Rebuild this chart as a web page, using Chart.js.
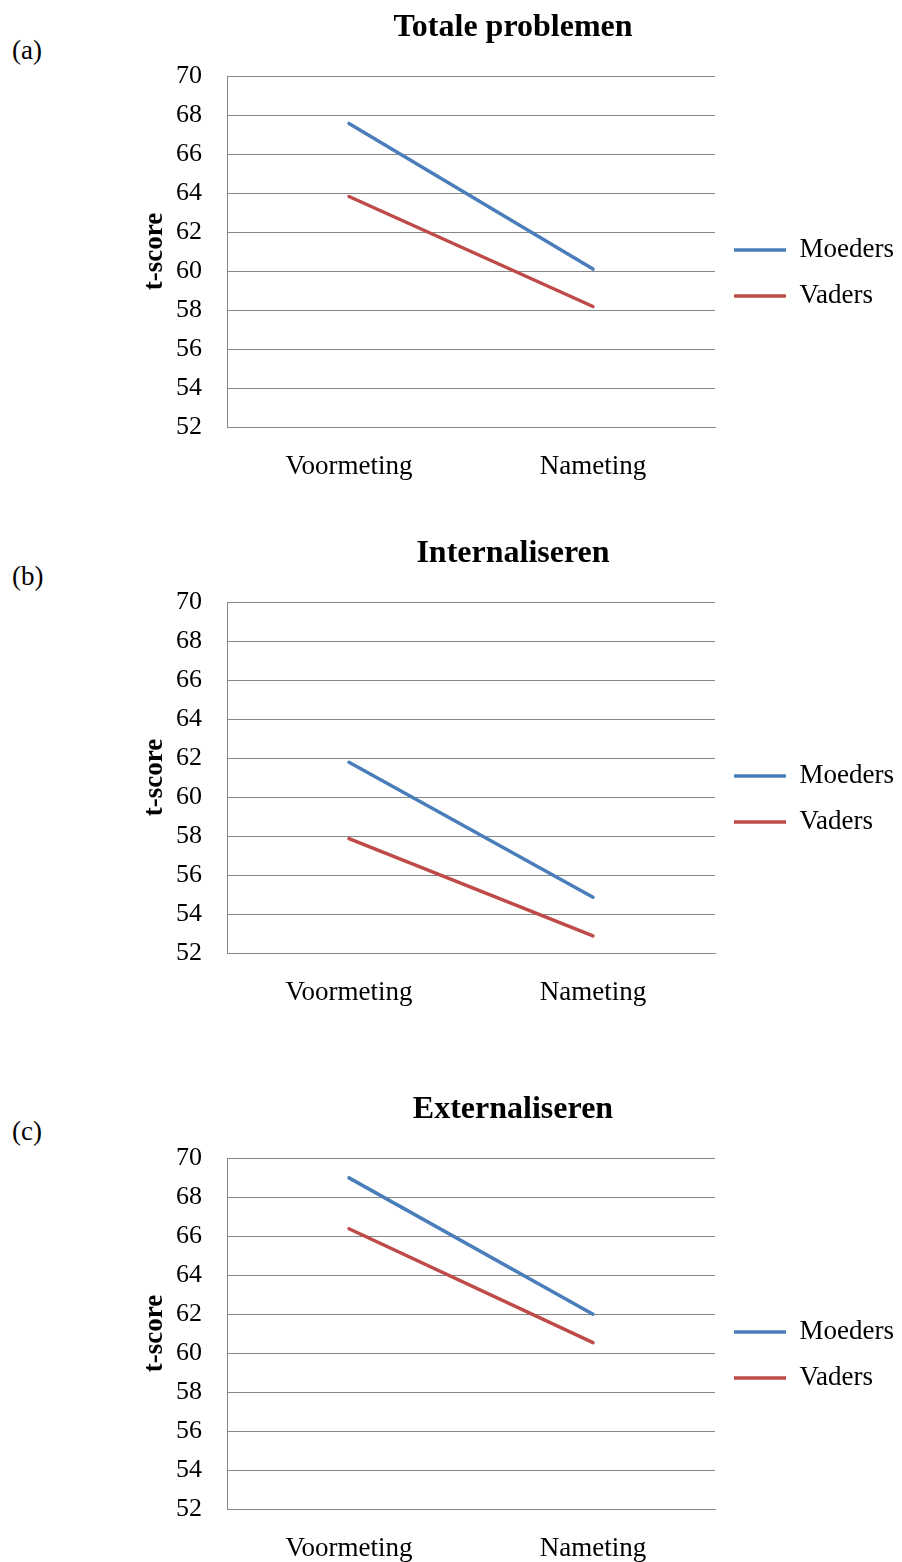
<!DOCTYPE html>
<html lang="nl">
<head>
    <meta charset="UTF-8">
    <meta name="viewport" content="width=device-width, initial-scale=1.0">
    <script src="https://cdn.jsdelivr.net/npm/chart.js"></script>
    <title>t-scores</title>
    <style>
        body { margin: 0; background: #fff; }
        #page { position: relative; width: 902px; height: 1562px; overflow: hidden; }
        .panel { position: absolute; left: 132px; }
        .tag { position: absolute; left: 12px; font-family: "Liberation Serif", "Times New Roman", serif; font-size: 27px; line-height: 27px; color: #000; }
    </style>
</head>
<body>
<div id="page">
    <div class="tag" style="top: 37px;">(a)</div>
    <div class="panel" style="top: 0px;"><canvas id="chartA" width="770" height="500"></canvas></div>

    <div class="tag" style="top: 563px;">(b)</div>
    <div class="panel" style="top: 526px;"><canvas id="chartB" width="770" height="500"></canvas></div>

    <div class="tag" style="top: 1118px;">(c)</div>
    <div class="panel" style="top: 1082px;"><canvas id="chartC" width="770" height="480"></canvas></div>
</div>
<script>
var categories = ['Voormeting', 'Nameting'];
var seriesNames = ['Moeders', 'Vaders'];

// Totale problemen
var totaalMoeders = [67.57, 60.10];
var totaalVaders = [63.82, 58.18];
// Internaliseren
var internMoeders = [61.78, 54.86];
var internVaders = [57.87, 52.88];
// Externaliseren
var externMoeders = [68.98, 61.99];
var externVaders = [66.37, 60.53];

var yMin = 52;
var yMax = 70;
var yStep = 2;

Chart.defaults.font.family = '"Liberation Serif", "Times New Roman", serif';
Chart.defaults.color = '#000';

var blue = '#4a7ebb';
var red = '#be4b48';
var gridGray = '#878787';

function makeChart(canvasId, titleText, moeders, vaders) {
    var ctx = document.getElementById(canvasId).getContext('2d');
    return new Chart(ctx, {
        type: 'line',
        data: {
            labels: categories,
            datasets: [{
                label: seriesNames[0],
                data: moeders,
                borderColor: blue,
                backgroundColor: blue,
                borderWidth: 3.5,
                borderCapStyle: 'round',
                pointRadius: 0,
                fill: false
            }, {
                label: seriesNames[1],
                data: vaders,
                borderColor: red,
                backgroundColor: red,
                borderWidth: 3.5,
                borderCapStyle: 'round',
                pointRadius: 0,
                fill: false
            }]
        },
        options: {
            responsive: false,
            animation: false,
            layout: { padding: { right: 8 } },
            plugins: {
                title: {
                    display: true,
                    text: titleText,
                    font: { size: 32, weight: 'bold' },
                    padding: { top: 8.5, bottom: 29.1 }
                },
                legend: {
                    position: 'right',
                    fullSize: false,
                    maxWidth: 179,
                    // empty legend title only pushes the entries down a bit
                    title: { display: true, text: '', font: { size: 10 }, padding: 15.5 },
                    labels: {
                        usePointStyle: true,
                        pointStyle: 'line',
                        pointStyleWidth: 52,
                        padding: 19,
                        font: { size: 27 },
                        color: '#000'
                    }
                },
                tooltip: { enabled: false }
            },
            scales: {
                x: {
                    offset: true,
                    grid: { display: false },
                    border: { color: gridGray, width: 1 },
                    ticks: { font: { size: 27 }, padding: 16, color: '#000' },
                    // plot bottom sits at 427px in every panel
                    afterFit: function (scale) { scale.height = scale.chart.height - 427; }
                },
                y: {
                    min: yMin,
                    max: yMax,
                    grid: { color: gridGray, lineWidth: 1, drawTicks: false },
                    border: { color: gridGray, width: 1 },
                    ticks: { stepSize: yStep, font: { size: 26 }, padding: 25, color: '#000' },
                    title: {
                        display: true,
                        text: 't-score',
                        font: { size: 27, weight: 'bold' },
                        padding: { top: 7, bottom: 0 }
                    },
                    afterFit: function (scale) { scale.width = 95; }
                }
            }
        }
    });
}

makeChart('chartA', 'Totale problemen', totaalMoeders, totaalVaders);
makeChart('chartB', 'Internaliseren', internMoeders, internVaders);
makeChart('chartC', 'Externaliseren', externMoeders, externVaders);
</script>
</body>
</html>
